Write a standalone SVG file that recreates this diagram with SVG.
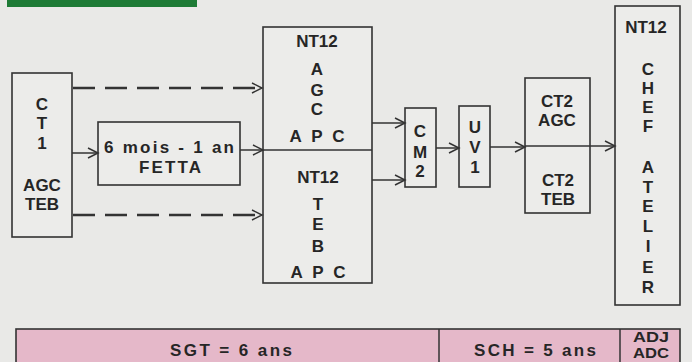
<svg xmlns="http://www.w3.org/2000/svg" width="692" height="362" viewBox="0 0 692 362">
<style>
.box{fill:#ececea;stroke:#333;stroke-width:1.6}
.t{font-family:"Liberation Sans",Arial,sans-serif;font-size:17px;font-weight:bold;fill:#262626;text-anchor:middle}
.s{font-size:14px}
.ln{stroke:#333;stroke-width:1.5;fill:none}
.dash{stroke:#333;stroke-width:2.6;fill:none;stroke-dasharray:22 10}
.bar{fill:#e5b8c9;stroke:#333;stroke-width:1.6}
</style>
<defs>
<marker id="ah" markerUnits="userSpaceOnUse" markerWidth="14" markerHeight="14" refX="11" refY="6" orient="auto">
<path d="M1,1 L11,6 L1,11" fill="none" stroke="#333" stroke-width="1.5"/>
</marker>
</defs>
<rect width="692" height="362" fill="#e9e9e7"/>
<rect x="7" y="0" width="190" height="7" fill="#1e7b36"/>

<g id="ct1">
<rect class="box" x="12" y="73" width="60" height="164"/>
<text class="t" x="42" y="110">C</text>
<text class="t" x="42" y="129">T</text>
<text class="t" x="42" y="149">1</text>
<text class="t" x="42" y="191">AGC</text>
<text class="t" x="42" y="210">TEB</text>
</g>

<g id="fetta">
<rect class="box" x="98" y="122" width="142" height="63"/>
<text class="t" x="169" y="153" textLength="130" lengthAdjust="spacing">6 mois - 1 an</text>
<text class="t" x="170" y="173" textLength="62" lengthAdjust="spacing">FETTA</text>
</g>

<g id="nt12-agc-teb">
<rect class="box" x="263" y="27" width="109" height="256"/>
<line class="ln" x1="263" y1="150" x2="372" y2="150"/>
<text class="t" x="317" y="47">NT12</text>
<text class="t" x="317" y="75">A</text>
<text class="t" x="317" y="96">G</text>
<text class="t" x="317" y="115">C</text>
<text class="t" x="317" y="142" textLength="55" lengthAdjust="spacing">A P C</text>
<text class="t" x="318" y="183">NT12</text>
<text class="t" x="318" y="210">T</text>
<text class="t" x="318" y="230">E</text>
<text class="t" x="318" y="252">B</text>
<text class="t" x="318" y="278" textLength="55" lengthAdjust="spacing">A P C</text>
</g>

<g id="cm2">
<rect class="box" x="405" y="108" width="31" height="79"/>
<text class="t" x="420" y="137">C</text>
<text class="t" x="420" y="158">M</text>
<text class="t" x="420" y="177">2</text>
</g>

<g id="uv1">
<rect class="box" x="459" y="106" width="31" height="81"/>
<text class="t" x="475" y="133">U</text>
<text class="t" x="475" y="153">V</text>
<text class="t" x="475" y="173">1</text>
</g>

<g id="ct2">
<rect class="box" x="525" y="78" width="65" height="135"/>
<line class="ln" x1="525" y1="146" x2="590" y2="146"/>
<text class="t" x="557" y="107">CT2</text>
<text class="t" x="557" y="126">AGC</text>
<text class="t" x="558" y="186">CT2</text>
<text class="t" x="558" y="205">TEB</text>
</g>

<g id="nt12-chef">
<rect class="box" x="615" y="6" width="65" height="299"/>
<text class="t" x="646" y="33">NT12</text>
<text class="t" x="648" y="75">C</text>
<text class="t" x="648" y="94">H</text>
<text class="t" x="648" y="113">E</text>
<text class="t" x="648" y="132">F</text>
<text class="t" x="648" y="173">A</text>
<text class="t" x="648" y="193">T</text>
<text class="t" x="648" y="212">E</text>
<text class="t" x="648" y="232">L</text>
<text class="t" x="648" y="252">I</text>
<text class="t" x="648" y="273">E</text>
<text class="t" x="648" y="293">R</text>
</g>

<g id="connectors">
<line class="dash" x1="73" y1="88" x2="262" y2="88" marker-end="url(#ah)"/>
<line class="dash" x1="73" y1="215" x2="262" y2="215" marker-end="url(#ah)"/>
<line class="ln" x1="72" y1="153" x2="98" y2="153" marker-end="url(#ah)"/>
<line class="ln" x1="240" y1="150" x2="263" y2="150" marker-end="url(#ah)"/>
<line class="ln" x1="372" y1="123" x2="405" y2="123" marker-end="url(#ah)"/>
<line class="ln" x1="372" y1="180" x2="405" y2="180" marker-end="url(#ah)"/>
<line class="ln" x1="436" y1="148" x2="459" y2="148" marker-end="url(#ah)"/>
<line class="ln" x1="490" y1="147" x2="525" y2="147" marker-end="url(#ah)"/>
<line class="ln" x1="590" y1="146" x2="615" y2="146" marker-end="url(#ah)"/>
</g>

<g id="timeline">
<rect class="bar" x="16" y="329" width="664" height="40"/>
<line class="ln" x1="439" y1="329" x2="439" y2="362"/>
<line class="ln" x1="620" y1="329" x2="620" y2="362"/>
<text class="t" x="231" y="356" textLength="122" lengthAdjust="spacing">SGT = 6 ans</text>
<text class="t" x="535" y="356" textLength="122" lengthAdjust="spacing">SCH = 5 ans</text>
<text class="t s" x="651" y="342" textLength="36" lengthAdjust="spacingAndGlyphs">ADJ</text>
<text class="t s" x="651" y="358" textLength="36" lengthAdjust="spacingAndGlyphs">ADC</text>
</g>
</svg>
